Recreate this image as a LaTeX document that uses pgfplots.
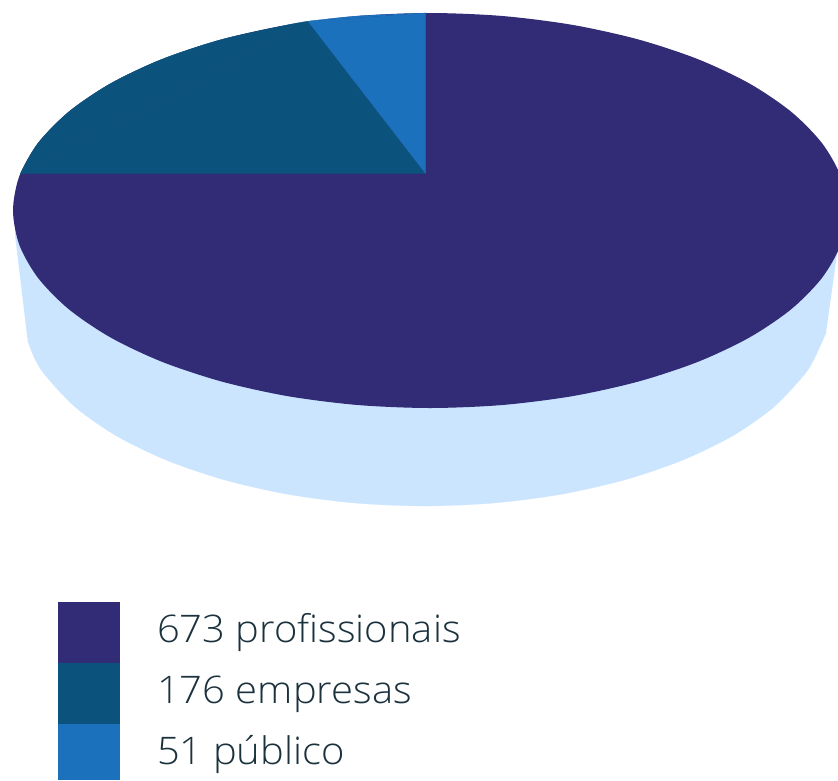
\documentclass[border=0pt]{standalone}
\usepackage{fontspec}
\setmainfont[FakeStretch=1.05]{Open Sans Light}
\usepackage{pgfplots}
\pgfplotsset{compat=1.18}

\definecolor{prof}{HTML}{322B76}
\definecolor{empr}{HTML}{0B527C}
\definecolor{publ}{HTML}{1C71BC}
\definecolor{side}{HTML}{CBE5FF}
\definecolor{txt}{HTML}{1B323D}

\begin{document}
\begin{tikzpicture}
\begin{axis}[
	hide axis,
	scale only axis,
	width=838pt, height=780pt,
	xmin=0, xmax=838,
	ymin=0, ymax=780,
	y dir=reverse,
]
% keep the whole frame in the page
\path (rel axis cs:0,0) rectangle (rel axis cs:1,1);

% side of the disc
\addplot[fill=side, draw=side, line width=0.2pt, smooth] coordinates {
	(27.7,341) (35.2,359.6) (45.8,376) (75.5,407.3) (115.8,435.5) (165.5,459.8) (223,479.5)
	(286.7,494.1) (354.5,503) (424.5,506) (494.5,503) (562.3,494.1) (626,479.5)
	(683.5,459.8) (733.2,435.5) (773.5,407.3) (803.2,376) (813.8,359.6) (826,333)};
\addplot[fill=side, draw=none] coordinates {
	(15,235) (27.7,341) (60,380) (420,480) (790,380) (826,333) (838,247) (838,215) (15,215)} -- cycle;

% top face, the 673 slice
\addplot[fill=prof, draw=none, smooth cycle] coordinates {
	(13,210.5) (19.3,176.2) (38.1,143) (68.9,111.7) (110.6,83.5) (162,59.2)
	(221.5,39.5) (287.4,24.9) (357.6,16) (430,13) (502.4,16) (572.6,24.9)
	(638.5,39.5) (698,59.2) (749.4,83.5) (791.1,111.7) (821.9,143) (840.7,176.2)
	(847,210.5) (840.7,244.8) (821.9,278) (791.1,309.3) (749.4,337.5) (698,361.8)
	(638.5,381.5) (572.6,396.1) (502.4,405) (430,408) (357.6,405) (287.4,396.1)
	(221.5,381.5) (162,361.8) (110.6,337.5) (68.9,309.3) (38.1,278) (19.3,244.8)};

% 176 slice
\addplot[fill=empr, draw=empr, line width=0.2pt, smooth] coordinates {
	(20.4,173.5) (38.1,143) (68.9,111.7) (110.6,83.5) (162,59.2) (221.5,39.5)
	(287.4,24.9) (308,21.2)};
\addplot[fill=empr, draw=empr, line width=0.2pt] coordinates {
	(425,173.5) (20.4,173.5) (308,21.2)} -- cycle;

% 51 slice
\addplot[fill=publ, draw=publ, line width=0.2pt, smooth] coordinates {
	(308,21.2) (357.6,16) (425.5,13)};
\addplot[fill=publ, draw=publ, line width=0.2pt] coordinates {
	(425.5,173.5) (308,21.2) (425.5,13)} -- cycle;

% legend swatches
\addplot[fill=prof, draw=none] coordinates {(58,602) (120,602) (120,663) (58,663)} -- cycle;
\addplot[fill=empr, draw=none] coordinates {(58,663) (120,663) (120,724) (58,724)} -- cycle;
\addplot[fill=publ, draw=none] coordinates {(58,724) (120,724) (120,780) (58,780)} -- cycle;

\begin{scope}[every node/.style={anchor=base west, inner sep=0pt, text=txt, font=\fontsize{38}{44}\selectfont}]
\node at (axis cs:157,642) {673 profissionais};
\node at (axis cs:157,703) {176 empresas};
\node at (axis cs:157,764) {51 público};
\end{scope}
\end{axis}
\end{tikzpicture}
\end{document}
